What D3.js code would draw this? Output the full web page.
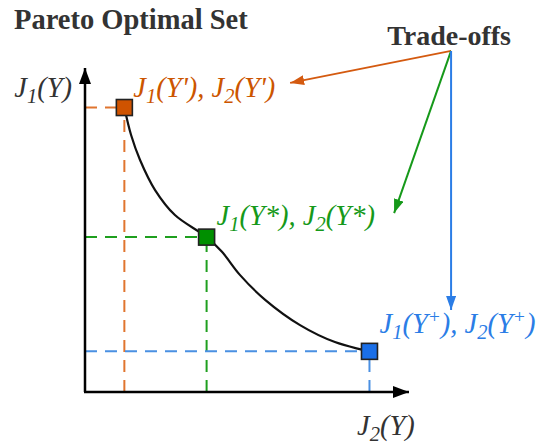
<!DOCTYPE html>
<html>
<head>
<meta charset="utf-8">
<script src="https://cdn.jsdelivr.net/npm/d3@7/dist/d3.min.js"></script>
<style>
  html, body { margin: 0; padding: 0; background: #fff; }
  svg { display: block; }
  text { font-family: "Liberation Serif", "Times New Roman", serif; }
</style>
</head>
<body>
<svg id="chart" width="539" height="444"></svg>
<script>
// Pareto front, in objective units (J2 on x, J1 on y)
const frontJ2 = [1.23, 1.44, 1.72, 2.19, 2.81, 3.80, 4.28, 4.84, 5.63, 6.72, 7.81, 8.89];
const frontJ1 = [8.89, 8.03, 7.25, 6.31, 5.53, 4.84, 4.38, 3.66, 2.88, 2.09, 1.56, 1.27];

// Highlighted solutions
const pointNames = ["prime", "star", "plus"];
const pointJ2 = [1.23, 3.80, 8.89];
const pointJ1 = [8.89, 4.84, 1.27];
const pointFill = ["#cf5300", "#008f00", "#1a6fe8"];
const pointText = ["#cc5500", "#16991a", "#2b7de6"];
const pointDash = ["#e0752f", "#1f9f1f", "#4a90e2"];
const pointMark = ["'", "*", "+"];

// Trade-off arrows: common origin and the three tips
const tradeOrigin = [11.44, 10.66];
const tradeTipJ2 = [6.41, 9.66, 11.44];
const tradeTipJ1 = [9.66, 5.59, 2.56];
const tradeColor = ["#d45a10", "#16991a", "#2b7de6"];

const svg = d3.select("#chart");
const x = d3.scaleLinear().domain([0, 10]).range([85, 405]);
const y = d3.scaleLinear().domain([0, 10]).range([392, 72]);

// arrowhead markers
const defs = svg.append("defs");
function marker(id, color, len, wid) {
  defs.append("marker")
    .attr("id", id)
    .attr("markerUnits", "userSpaceOnUse")
    .attr("viewBox", `0 ${-wid / 2} ${len} ${wid}`)
    .attr("refX", len).attr("refY", 0)
    .attr("markerWidth", len).attr("markerHeight", wid)
    .attr("orient", "auto")
    .append("path")
    .attr("d", `M0,${-wid / 2}L${len},0L0,${wid / 2}Z`)
    .attr("fill", color);
}
marker("ax", "#000", 16, 12);
tradeColor.forEach((c, i) => marker("tr" + i, c, 14, 10));

// dashed guides from each highlighted solution to both axes
pointNames.forEach((n, i) => {
  const g = svg.append("g")
    .attr("stroke", pointDash[i]).attr("stroke-width", 2)
    .attr("stroke-dasharray", "12,8").attr("fill", "none");
  g.append("line")
    .attr("x1", x(0)).attr("y1", y(pointJ1[i]))
    .attr("x2", x(pointJ2[i])).attr("y2", y(pointJ1[i]));
  g.append("line")
    .attr("x1", x(pointJ2[i])).attr("y1", y(0))
    .attr("x2", x(pointJ2[i])).attr("y2", y(pointJ1[i]));
});

// axes with arrowheads
svg.append("line")
  .attr("x1", x(0)).attr("y1", y(0)).attr("x2", x(0)).attr("y2", y(10) - 4)
  .attr("stroke", "#000").attr("stroke-width", 2.5).attr("marker-end", "url(#ax)");
svg.append("line")
  .attr("x1", x(0) - 1).attr("y1", y(0)).attr("x2", x(10) + 4).attr("y2", y(0))
  .attr("stroke", "#000").attr("stroke-width", 2.5).attr("marker-end", "url(#ax)");

// Pareto front curve
const front = frontJ2.map((v, i) => [v, frontJ1[i]]);
svg.append("path")
  .attr("d", d3.line().x(d => x(d[0])).y(d => y(d[1])).curve(d3.curveCatmullRom.alpha(0.5))(front))
  .attr("fill", "none").attr("stroke", "#111").attr("stroke-width", 2.2);

// solution squares
const side = 16;
pointNames.forEach((n, i) => {
  svg.append("rect")
    .attr("x", x(pointJ2[i]) - side / 2).attr("y", y(pointJ1[i]) - side / 2)
    .attr("width", side).attr("height", side)
    .attr("fill", pointFill[i]).attr("stroke", "#222").attr("stroke-width", 1.6);
});

// trade-off arrows
tradeTipJ2.forEach((v, i) => {
  svg.append("line")
    .attr("x1", x(tradeOrigin[0])).attr("y1", y(tradeOrigin[1]))
    .attr("x2", x(v)).attr("y2", y(tradeTipJ1[i]))
    .attr("stroke", tradeColor[i]).attr("stroke-width", 2)
    .attr("marker-end", `url(#tr${i})`);
});

// italic math label J1(...), J2(...) with subscripts / superscripts
function mathLabel(sel, parts) {
  parts.forEach(p => {
    const t = sel.append("tspan").text(p.t);
    if (p.sub) t.attr("font-size", "72%").attr("dy", 6);
    if (p.sup) t.attr("font-size", "68%").attr("dy", -10);
    if (p.back) t.attr("dy", p.back);
  });
}
function pairParts(mark) {
  const isSup = mark === "+";
  const m = isSup ? [{ t: "+", sup: true }, { t: "), ", back: 10 }] : [{ t: mark + "), " }];
  const m2 = isSup ? [{ t: "+", sup: true }, { t: ")", back: 10 }] : [{ t: mark + ")" }];
  return [{ t: "J" }, { t: "1", sub: true }, { t: "(Y", back: -6 }, ...m,
          { t: "J" }, { t: "2", sub: true }, { t: "(Y", back: -6 }, ...m2];
}

const labelDX = [9, 10, 10];
const labelDY = [-11, -12, -18];
pointNames.forEach((n, i) => {
  const t = svg.append("text")
    .attr("x", x(pointJ2[i]) + labelDX[i])
    .attr("y", y(pointJ1[i]) + labelDY[i])
    .attr("font-size", 28.5).attr("font-style", "italic").attr("fill", pointText[i]);
  mathLabel(t, pairParts(pointMark[i]));
});

// axis titles
const yl = svg.append("text").attr("x", x(0) - 13).attr("y", 97)
  .attr("text-anchor", "end").attr("font-size", 28.5).attr("font-style", "italic").attr("fill", "#333");
mathLabel(yl, [{ t: "J" }, { t: "1", sub: true }, { t: "(Y)", back: -6 }]);
const xl = svg.append("text").attr("x", 357).attr("y", 435)
  .attr("font-size", 28.5).attr("font-style", "italic").attr("fill", "#333");
mathLabel(xl, [{ t: "J" }, { t: "2", sub: true }, { t: "(Y)", back: -6 }]);

// headings
svg.append("text").attr("x", 14).attr("y", 29)
  .attr("font-size", 28.5).attr("font-weight", "bold").attr("fill", "#333")
  .text("Pareto Optimal Set");
svg.append("text").attr("x", x(tradeOrigin[0]) - 2).attr("y", 45)
  .attr("text-anchor", "middle")
  .attr("font-size", 28).attr("font-weight", "bold").attr("fill", "#333")
  .text("Trade-offs");
</script>
</body>
</html>
